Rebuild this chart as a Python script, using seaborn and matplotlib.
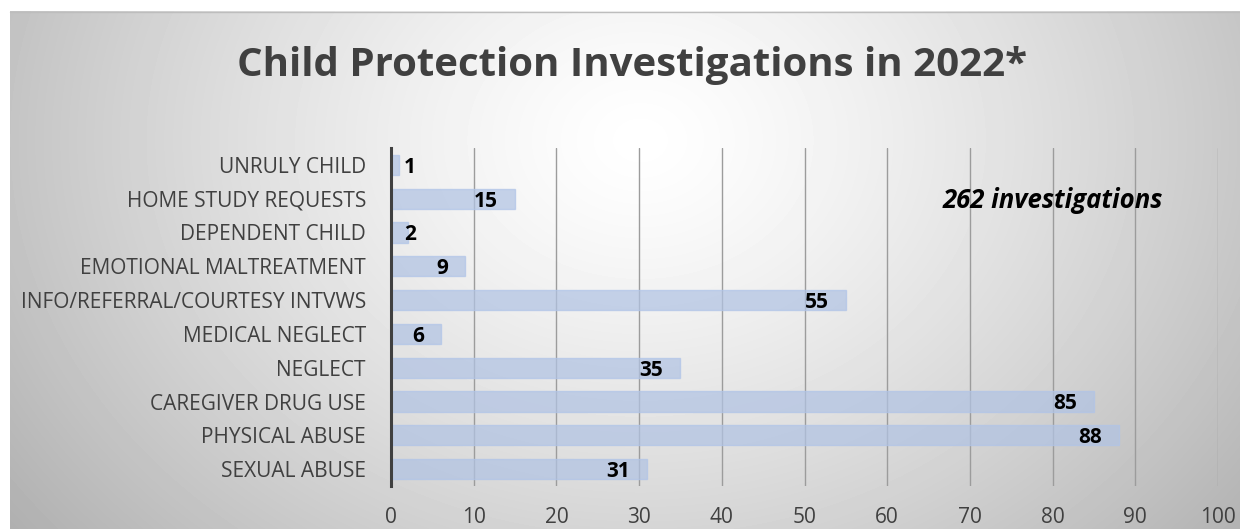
import numpy as np
import pandas as pd
import matplotlib
matplotlib.use("Agg")
import matplotlib.pyplot as plt
import seaborn as sb

# Chart data (top to bottom as shown)
categories = ["UNRULY CHILD", "HOME STUDY REQUESTS", "DEPENDENT CHILD",
              "EMOTIONAL MALTREATMENT", "INFO/REFERRAL/COURTESY INTVWS",
              "MEDICAL NEGLECT", "NEGLECT", "CAREGIVER DRUG USE",
              "PHYSICAL ABUSE", "SEXUAL ABUSE"]
counts = [1, 15, 2, 9, 55, 6, 35, 85, 88, 31]
xticks = [0, 10, 20, 30, 40, 50, 60, 70, 80, 90, 100]
title = "Child Protection Investigations in 2022*"
note = "262 investigations"

data = pd.DataFrame({"category": categories, "count": counts})

sb.set_style("white")
plt.rcParams["font.family"] = ["Open Sans", "DejaVu Sans"]

fig = plt.figure(figsize=(12.4, 5.29), dpi=100)

# Grey radial background behind everything
bg = fig.add_axes([10 / 1240, 0, 1 - 10 / 1240, 1 - 11 / 529], zorder=-10)
W, H = 1230, 518
xx, yy = np.meshgrid(np.arange(W) + 10, np.arange(H) + 11)
r = np.sqrt(((xx - 640) / 650.0) ** 2 + ((yy - 140) / 520.0) ** 2)
shade = 1 - 0.24 * np.clip(r, 0, 1.3) ** 1.3
bg.imshow(shade, cmap="gray", vmin=0, vmax=1, aspect="auto", interpolation="bilinear")
bg.axis("off")
fig.add_artist(plt.Line2D([10 / 1240, 1], [1 - 11.5 / 529] * 2, color="#bdbdbd", lw=1))

ax = fig.add_axes([391 / 1240, 1 - 486 / 529, 827 / 1240, 338 / 529])
ax.patch.set_alpha(0)

sb.barplot(data=data, x="count", y="category", orient="h", ax=ax,
           color="#a8c0ec", alpha=0.72, width=0.6, edgecolor="#b0c4e8",
           linewidth=1, zorder=3)

# Vertical gridlines
ax.set_xlim(0, 100)
ax.set_xticks(xticks)
ax.grid(axis="x", color="#9c9c9c", lw=1, zorder=1)
ax.set_axisbelow(True)
for s in ["top", "right", "bottom"]:
    ax.spines[s].set_visible(False)
ax.spines["left"].set_color("#404040")
ax.spines["left"].set_linewidth(2.2)
ax.spines["left"].set_zorder(5)
ax.tick_params(axis="both", length=0, labelsize=15, colors="#404040")
ax.tick_params(axis="x", pad=15)
ax.tick_params(axis="y", pad=18)
ax.set_xlabel("")
ax.set_ylabel("")

# Value labels at the inside end of each bar
for i, v in enumerate(counts):
    ax.text(max(v - 2.05, 3.05), i + 0.07, str(v), ha="right", va="center",
            fontsize=15, fontweight="bold", color="black", zorder=6)

ax.text(0.934, 0.845, note, transform=ax.transAxes, ha="right", va="center",
        fontsize=18.5, fontweight="bold", fontstyle="italic", color="black")

fig.text(0.51, 0.876, title, ha="center", va="center", fontsize=29,
         fontweight="bold", color="#404040")

plt.savefig("out.png", dpi=100)
print("Saved image!")
